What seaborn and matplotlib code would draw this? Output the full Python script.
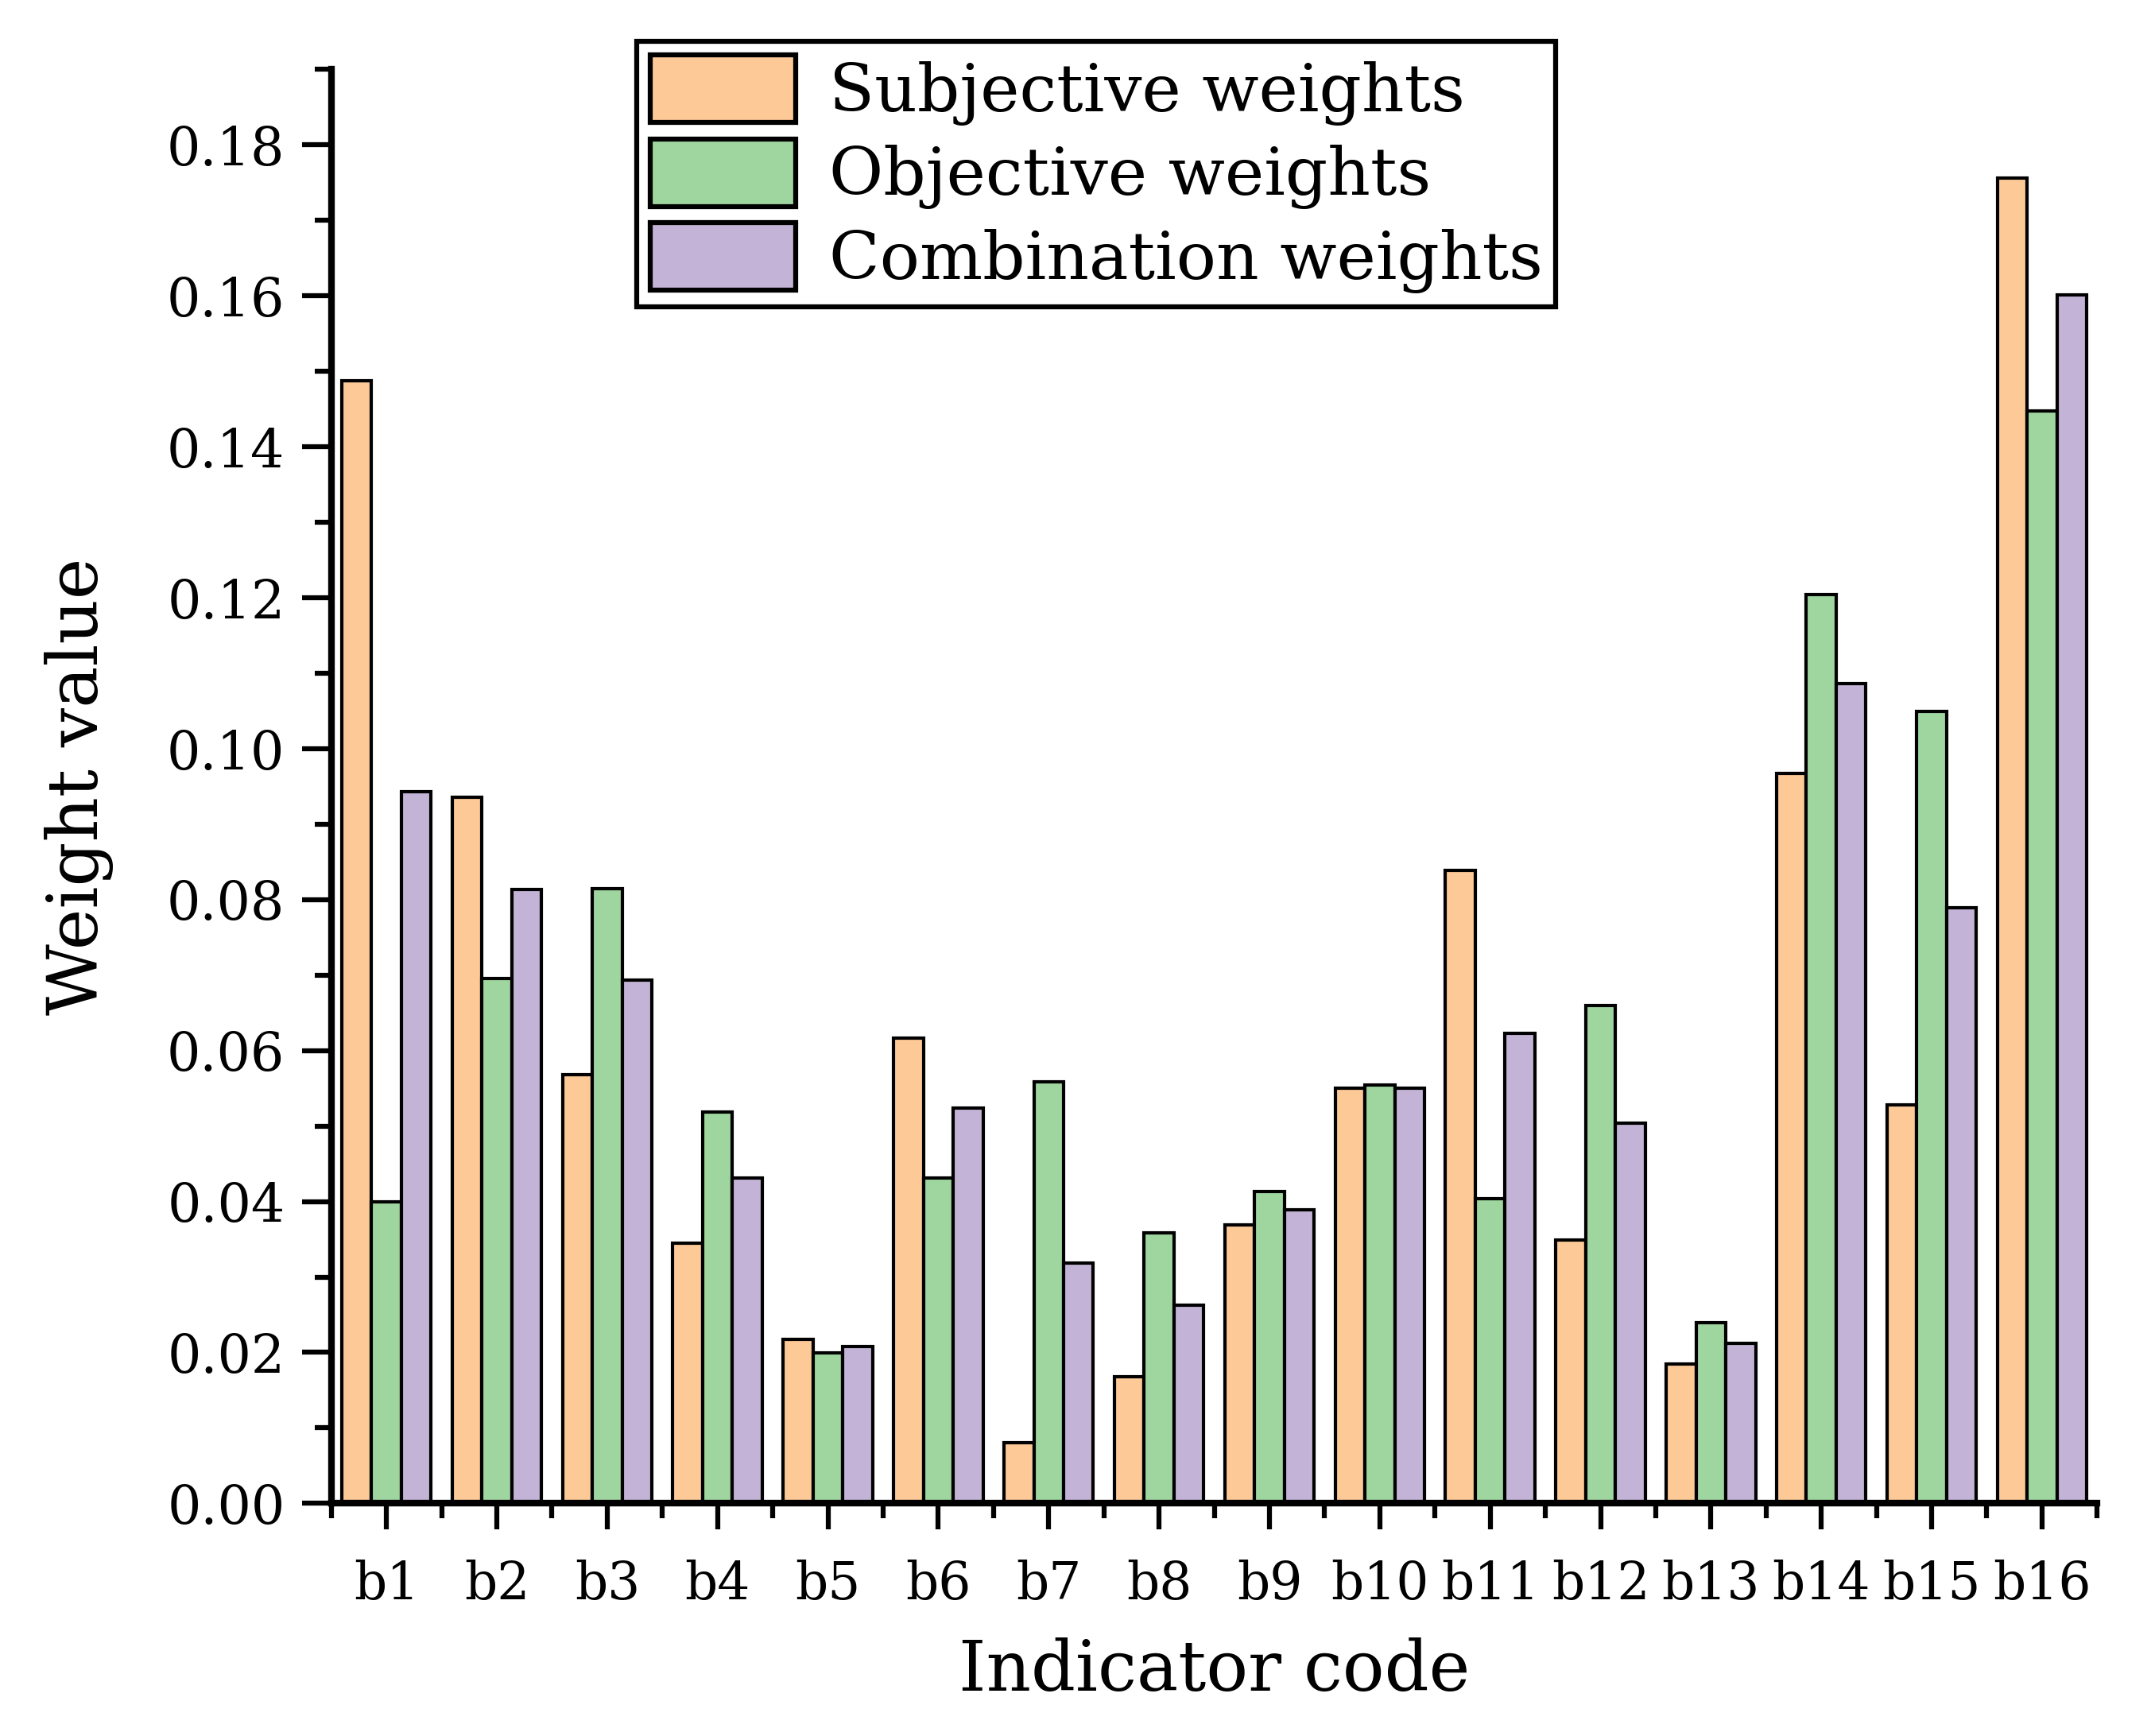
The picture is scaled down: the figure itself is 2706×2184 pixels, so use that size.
import pandas as pd
import seaborn as sns
import numpy as np
import matplotlib.pyplot as plt
from matplotlib.patches import Patch
from matplotlib.ticker import MultipleLocator, FormatStrFormatter

# valores
codigos = ['b1', 'b2', 'b3', 'b4', 'b5', 'b6', 'b7', 'b8',
           'b9', 'b10', 'b11', 'b12', 'b13', 'b14', 'b15', 'b16']
series = ['Subjective weights', 'Objective weights', 'Combination weights']
subjetivo = [0.1488, 0.0936, 0.0568, 0.0345, 0.0217, 0.0616, 0.0080, 0.0168,
             0.0369, 0.0550, 0.0839, 0.0349, 0.0185, 0.0967, 0.0528, 0.1756]
objetivo = [0.0400, 0.0696, 0.0815, 0.0519, 0.0199, 0.0431, 0.0559, 0.0358,
            0.0413, 0.0554, 0.0404, 0.0660, 0.0239, 0.1204, 0.1049, 0.1447]
combinado = [0.0943, 0.0813, 0.0693, 0.0431, 0.0208, 0.0524, 0.0318, 0.0263,
             0.0389, 0.0550, 0.0623, 0.0504, 0.0212, 0.1086, 0.0789, 0.1601]
cores = ['#FCC997', '#9FD69F', '#C3B3D6']

df = pd.DataFrame({
    'codigo': codigos * 3,
    'serie': [series[0]] * 16 + [series[1]] * 16 + [series[2]] * 16,
    'peso': subjetivo + objetivo + combinado,
})

sns.set_style('ticks')
plt.rcParams['font.family'] = ['DejaVu Serif']
plt.rcParams['text.color'] = 'black'
plt.rcParams['axes.labelcolor'] = 'black'
plt.rcParams['axes.edgecolor'] = 'black'
plt.rcParams['xtick.color'] = 'black'
plt.rcParams['ytick.color'] = 'black'

fig, ax = plt.subplots(figsize=(9.02, 7.28), dpi=300)
fig.subplots_adjust(left=0.154, right=0.975, bottom=0.134, top=0.960)

sns.barplot(data=df, x='codigo', y='peso', hue='serie', palette=cores,
            width=0.81, edgecolor='black', linewidth=1.0, saturation=1,
            legend=False, ax=ax)

ax.set_xlim(-0.5, 15.5)
ax.set_ylim(0, 0.19)
ax.yaxis.set_major_locator(MultipleLocator(0.02))
ax.yaxis.set_minor_locator(MultipleLocator(0.01))
ax.yaxis.set_major_formatter(FormatStrFormatter('%.2f'))
ax.set_xticks(np.arange(len(codigos)))
ax.set_xticklabels(codigos)
ax.set_xticks(np.arange(-0.5, 16, 1), minor=True)

for lado in ['top', 'right']:
    ax.spines[lado].set_visible(False)
for lado in ['left', 'bottom']:
    ax.spines[lado].set_linewidth(2.0)
    ax.spines[lado].set_color('black')

ax.tick_params(axis='both', which='both', direction='out', width=1.5, color='black',
               labelcolor='black')
ax.tick_params(axis='y', which='major', length=9, labelsize=16, pad=5)
ax.tick_params(axis='y', which='minor', length=5)
ax.tick_params(axis='x', which='major', length=8, labelsize=15.5, pad=9)
ax.tick_params(axis='x', which='minor', length=4.5)

ax.set_xlabel('Indicator code', fontsize=21, labelpad=8, color='black')
ax.set_ylabel('Weight value', fontsize=21, labelpad=16, color='black')

alcas = [Patch(facecolor=c, edgecolor='black', linewidth=1.5) for c in cores]
leg = ax.legend(alcas, series, loc='upper left', bbox_to_anchor=(0.296, 0.976),
                bbox_transform=fig.transFigure, fontsize=20, frameon=True,
                fancybox=False, edgecolor='black', framealpha=1,
                handlelength=2.2, handleheight=1.2, handletextpad=0.5,
                labelspacing=0.2, borderpad=0.2, borderaxespad=0)
leg.get_frame().set_linewidth(1.5)
for t in leg.get_texts():
    t.set_color('black')

fig.savefig('out.png', dpi=300)
